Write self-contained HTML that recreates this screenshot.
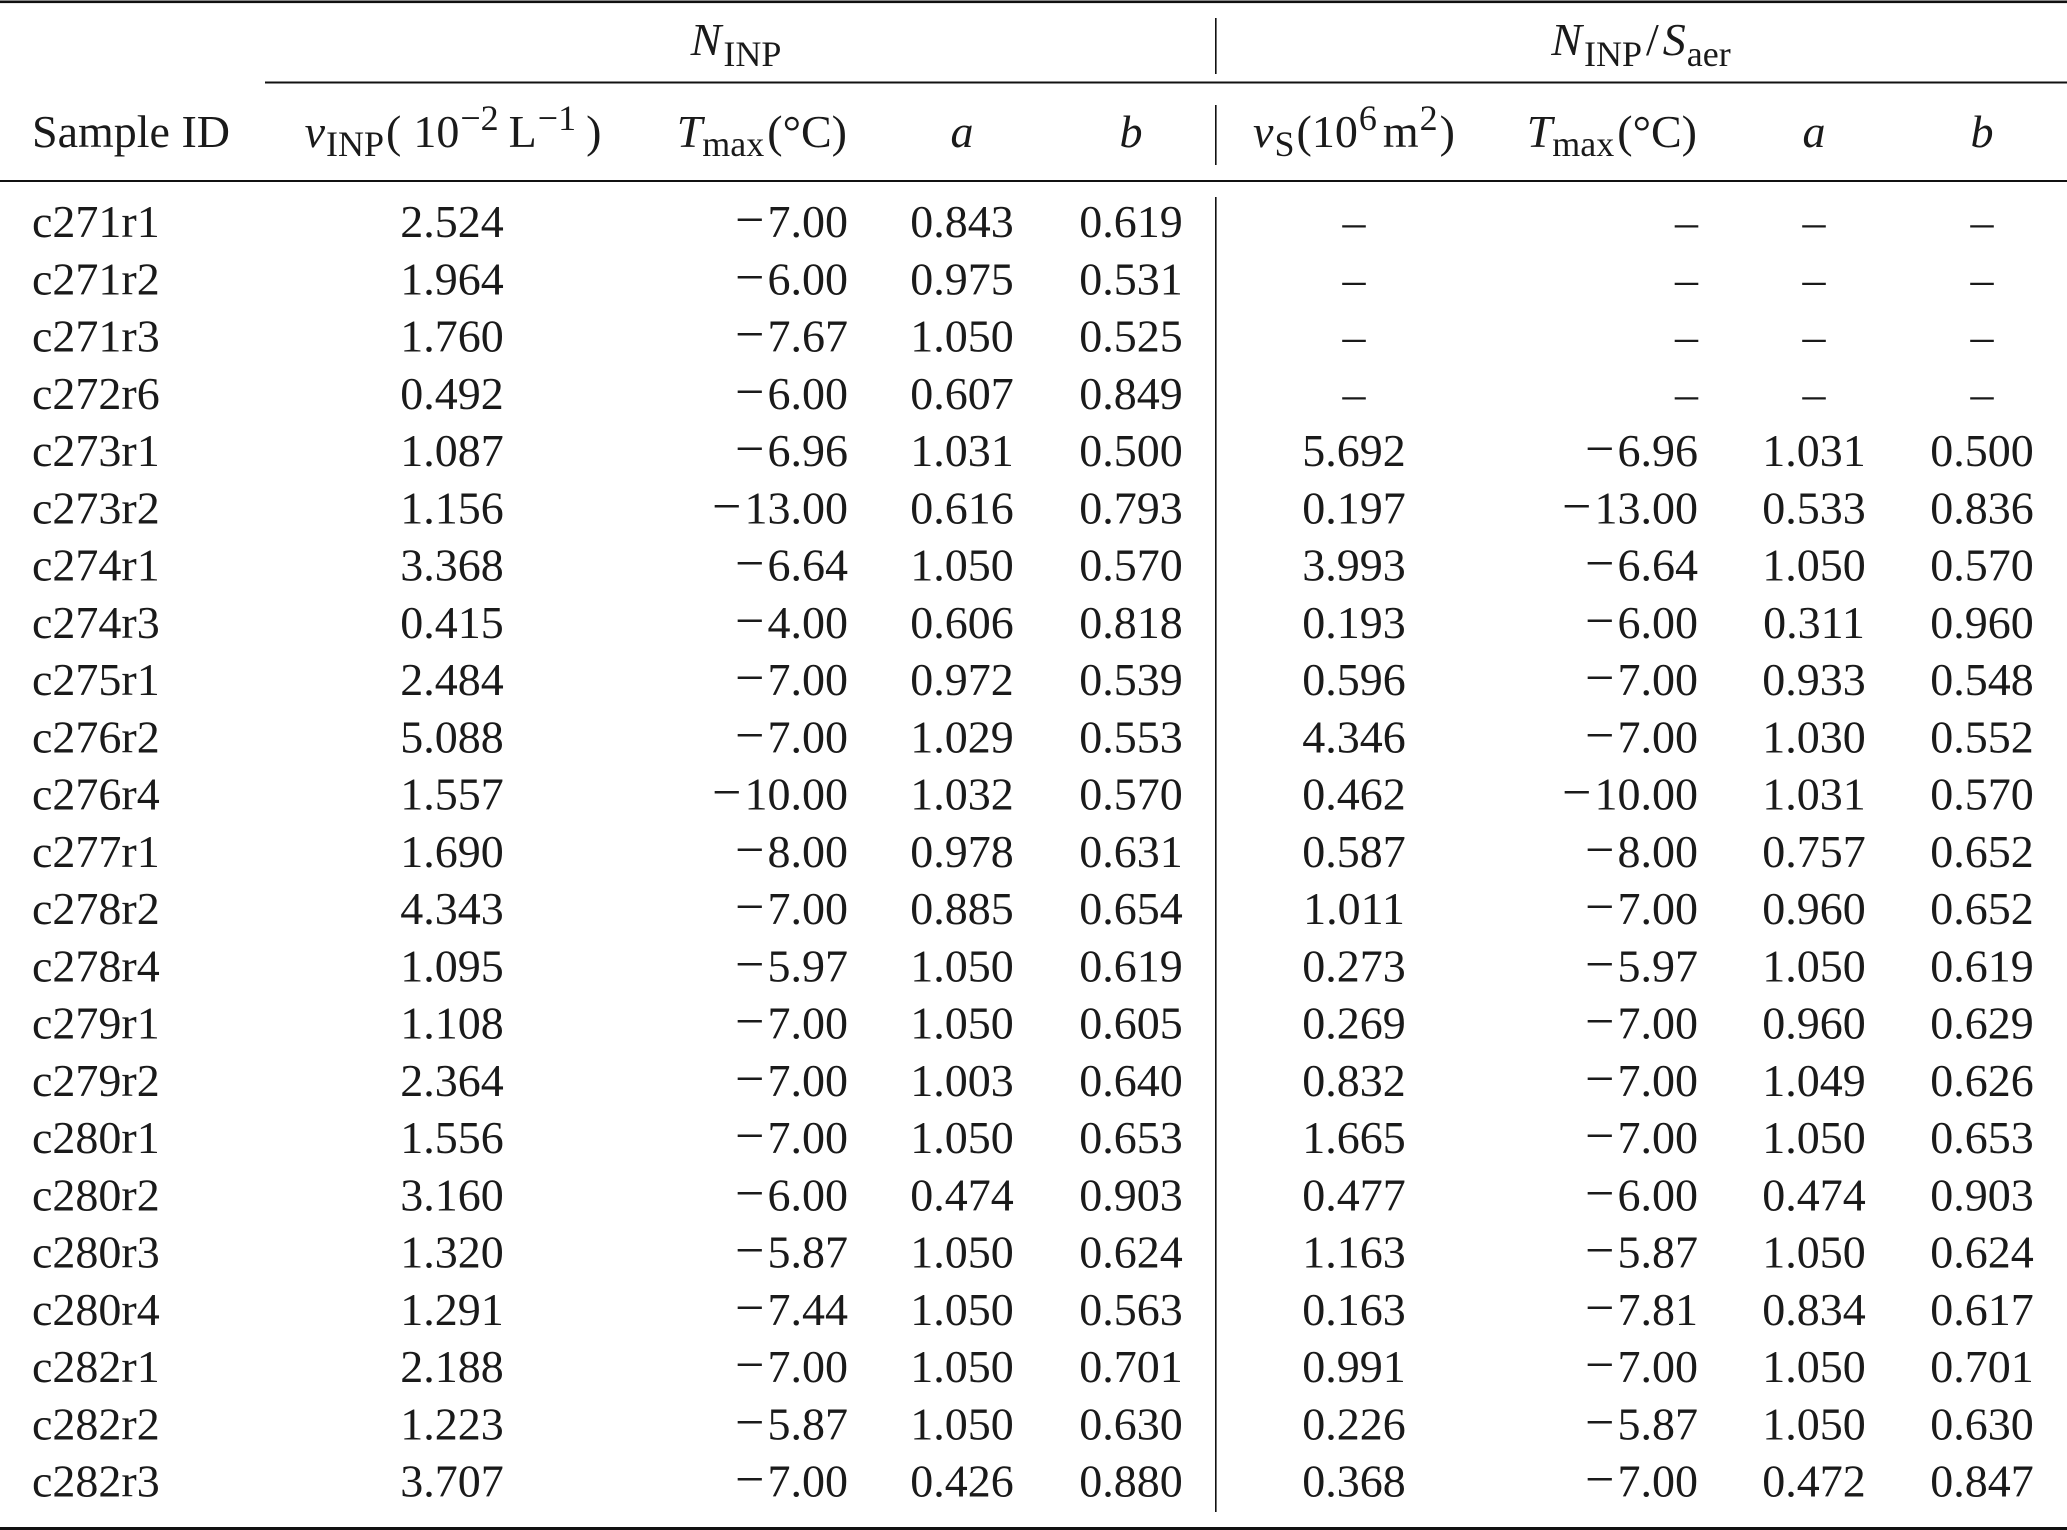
<!DOCTYPE html>
<html>
<head>
<meta charset="utf-8">
<style>
html,body{margin:0;padding:0;background:#fff;}
svg{display:block;}
text{font-family:"Liberation Serif","DejaVu Serif",serif;font-size:46px;fill:#1a1a1a;}
.m{text-anchor:middle;}
.e{text-anchor:end;}
.i{font-style:italic;}
.n{font-size:52px;}
</style>
</head>
<body>
<svg width="2067" height="1530" viewBox="0 0 2067 1530" xmlns="http://www.w3.org/2000/svg">
<rect x="0" y="0" width="2067" height="1530" fill="#fff"/>
<!-- rules -->
<rect x="0" y="0.5" width="2067" height="2.6" fill="#111"/>
<rect x="265" y="81.5" width="1802" height="2" fill="#111"/>
<rect x="0" y="180" width="2067" height="2" fill="#111"/>
<rect x="0" y="1527" width="2067" height="3" fill="#111"/>
<!-- vertical separator -->
<rect x="1215" y="18" width="1.6" height="56" fill="#111"/>
<rect x="1215" y="105" width="1.6" height="60" fill="#111"/>
<rect x="1215" y="197" width="1.6" height="1315" fill="#111"/>

<!-- group headers -->
<text x="736" y="55" class="m"><tspan class="i">N</tspan><tspan font-size="36" dy="11" dx="2">INP</tspan></text>
<text x="1641" y="55" class="m"><tspan class="i">N</tspan><tspan font-size="36" dy="11" dx="2">INP</tspan><tspan dy="-11" dx="4">/</tspan><tspan class="i" dx="4">S</tspan><tspan font-size="36" dy="11" dx="1">aer</tspan></text>

<!-- column headers -->
<text x="32" y="147">Sample ID</text>
<text x="453" y="147" class="m"><tspan class="i">ν</tspan><tspan font-size="36" dy="9" dx="1">INP</tspan><tspan dy="-9" dx="2">(</tspan><tspan dx="12">10</tspan><tspan font-size="36" dy="-17" dx="1">−2</tspan><tspan dy="17" dx="10">L</tspan><tspan font-size="36" dy="-17" dx="1">−1</tspan><tspan dy="17" dx="10">)</tspan></text>
<text x="847" y="147" class="e"><tspan class="i">T</tspan><tspan font-size="36" dy="9">max</tspan><tspan dy="-9" dx="3">(°C)</tspan></text>
<text x="962" y="147" class="m i">a</text>
<text x="1131" y="147" class="m i">b</text>
<text x="1354" y="147" class="m"><tspan class="i">ν</tspan><tspan font-size="36" dy="9" dx="1">S</tspan><tspan dy="-9" dx="2">(10</tspan><tspan font-size="36" dy="-17" dx="1">6</tspan><tspan dy="17" dx="6">m</tspan><tspan font-size="36" dy="-17" dx="1">2</tspan><tspan dy="17" dx="2">)</tspan></text>
<text x="1697" y="147" class="e"><tspan class="i">T</tspan><tspan font-size="36" dy="9">max</tspan><tspan dy="-9" dx="3">(°C)</tspan></text>
<text x="1814" y="147" class="m i">a</text>
<text x="1982" y="147" class="m i">b</text>

<!-- body rows -->
<!-- row 0 -->
<text x="32" y="237">c271r1</text><text x="452" y="237" class="m">2.524</text><text x="848" y="237" class="e"><tspan class="n">−</tspan><tspan dx="3">7.00</tspan></text><text x="962" y="237" class="m">0.843</text><text x="1131" y="237" class="m">0.619</text>
<text x="1354" y="237" class="m">–</text><text x="1698" y="237" class="e">–</text><text x="1814" y="237" class="m">–</text><text x="1982" y="237" class="m">–</text>
<!-- row 1 -->
<text x="32" y="294.25">c271r2</text><text x="452" y="294.25" class="m">1.964</text><text x="848" y="294.25" class="e"><tspan class="n">−</tspan><tspan dx="3">6.00</tspan></text><text x="962" y="294.25" class="m">0.975</text><text x="1131" y="294.25" class="m">0.531</text>
<text x="1354" y="294.25" class="m">–</text><text x="1698" y="294.25" class="e">–</text><text x="1814" y="294.25" class="m">–</text><text x="1982" y="294.25" class="m">–</text>
<!-- row 2 -->
<text x="32" y="351.5">c271r3</text><text x="452" y="351.5" class="m">1.760</text><text x="848" y="351.5" class="e"><tspan class="n">−</tspan><tspan dx="3">7.67</tspan></text><text x="962" y="351.5" class="m">1.050</text><text x="1131" y="351.5" class="m">0.525</text>
<text x="1354" y="351.5" class="m">–</text><text x="1698" y="351.5" class="e">–</text><text x="1814" y="351.5" class="m">–</text><text x="1982" y="351.5" class="m">–</text>
<!-- row 3 -->
<text x="32" y="408.75">c272r6</text><text x="452" y="408.75" class="m">0.492</text><text x="848" y="408.75" class="e"><tspan class="n">−</tspan><tspan dx="3">6.00</tspan></text><text x="962" y="408.75" class="m">0.607</text><text x="1131" y="408.75" class="m">0.849</text>
<text x="1354" y="408.75" class="m">–</text><text x="1698" y="408.75" class="e">–</text><text x="1814" y="408.75" class="m">–</text><text x="1982" y="408.75" class="m">–</text>
<!-- row 4 -->
<text x="32" y="466">c273r1</text><text x="452" y="466" class="m">1.087</text><text x="848" y="466" class="e"><tspan class="n">−</tspan><tspan dx="3">6.96</tspan></text><text x="962" y="466" class="m">1.031</text><text x="1131" y="466" class="m">0.500</text>
<text x="1354" y="466" class="m">5.692</text><text x="1698" y="466" class="e"><tspan class="n">−</tspan><tspan dx="3">6.96</tspan></text><text x="1814" y="466" class="m">1.031</text><text x="1982" y="466" class="m">0.500</text>
<!-- row 5 -->
<text x="32" y="523.25">c273r2</text><text x="452" y="523.25" class="m">1.156</text><text x="848" y="523.25" class="e"><tspan class="n">−</tspan><tspan dx="3">13.00</tspan></text><text x="962" y="523.25" class="m">0.616</text><text x="1131" y="523.25" class="m">0.793</text>
<text x="1354" y="523.25" class="m">0.197</text><text x="1698" y="523.25" class="e"><tspan class="n">−</tspan><tspan dx="3">13.00</tspan></text><text x="1814" y="523.25" class="m">0.533</text><text x="1982" y="523.25" class="m">0.836</text>
<!-- row 6 -->
<text x="32" y="580.5">c274r1</text><text x="452" y="580.5" class="m">3.368</text><text x="848" y="580.5" class="e"><tspan class="n">−</tspan><tspan dx="3">6.64</tspan></text><text x="962" y="580.5" class="m">1.050</text><text x="1131" y="580.5" class="m">0.570</text>
<text x="1354" y="580.5" class="m">3.993</text><text x="1698" y="580.5" class="e"><tspan class="n">−</tspan><tspan dx="3">6.64</tspan></text><text x="1814" y="580.5" class="m">1.050</text><text x="1982" y="580.5" class="m">0.570</text>
<!-- row 7 -->
<text x="32" y="637.75">c274r3</text><text x="452" y="637.75" class="m">0.415</text><text x="848" y="637.75" class="e"><tspan class="n">−</tspan><tspan dx="3">4.00</tspan></text><text x="962" y="637.75" class="m">0.606</text><text x="1131" y="637.75" class="m">0.818</text>
<text x="1354" y="637.75" class="m">0.193</text><text x="1698" y="637.75" class="e"><tspan class="n">−</tspan><tspan dx="3">6.00</tspan></text><text x="1814" y="637.75" class="m">0.311</text><text x="1982" y="637.75" class="m">0.960</text>
<!-- row 8 -->
<text x="32" y="695">c275r1</text><text x="452" y="695" class="m">2.484</text><text x="848" y="695" class="e"><tspan class="n">−</tspan><tspan dx="3">7.00</tspan></text><text x="962" y="695" class="m">0.972</text><text x="1131" y="695" class="m">0.539</text>
<text x="1354" y="695" class="m">0.596</text><text x="1698" y="695" class="e"><tspan class="n">−</tspan><tspan dx="3">7.00</tspan></text><text x="1814" y="695" class="m">0.933</text><text x="1982" y="695" class="m">0.548</text>
<!-- row 9 -->
<text x="32" y="752.25">c276r2</text><text x="452" y="752.25" class="m">5.088</text><text x="848" y="752.25" class="e"><tspan class="n">−</tspan><tspan dx="3">7.00</tspan></text><text x="962" y="752.25" class="m">1.029</text><text x="1131" y="752.25" class="m">0.553</text>
<text x="1354" y="752.25" class="m">4.346</text><text x="1698" y="752.25" class="e"><tspan class="n">−</tspan><tspan dx="3">7.00</tspan></text><text x="1814" y="752.25" class="m">1.030</text><text x="1982" y="752.25" class="m">0.552</text>
<!-- row 10 -->
<text x="32" y="809.5">c276r4</text><text x="452" y="809.5" class="m">1.557</text><text x="848" y="809.5" class="e"><tspan class="n">−</tspan><tspan dx="3">10.00</tspan></text><text x="962" y="809.5" class="m">1.032</text><text x="1131" y="809.5" class="m">0.570</text>
<text x="1354" y="809.5" class="m">0.462</text><text x="1698" y="809.5" class="e"><tspan class="n">−</tspan><tspan dx="3">10.00</tspan></text><text x="1814" y="809.5" class="m">1.031</text><text x="1982" y="809.5" class="m">0.570</text>
<!-- row 11 -->
<text x="32" y="866.75">c277r1</text><text x="452" y="866.75" class="m">1.690</text><text x="848" y="866.75" class="e"><tspan class="n">−</tspan><tspan dx="3">8.00</tspan></text><text x="962" y="866.75" class="m">0.978</text><text x="1131" y="866.75" class="m">0.631</text>
<text x="1354" y="866.75" class="m">0.587</text><text x="1698" y="866.75" class="e"><tspan class="n">−</tspan><tspan dx="3">8.00</tspan></text><text x="1814" y="866.75" class="m">0.757</text><text x="1982" y="866.75" class="m">0.652</text>
<!-- row 12 -->
<text x="32" y="924">c278r2</text><text x="452" y="924" class="m">4.343</text><text x="848" y="924" class="e"><tspan class="n">−</tspan><tspan dx="3">7.00</tspan></text><text x="962" y="924" class="m">0.885</text><text x="1131" y="924" class="m">0.654</text>
<text x="1354" y="924" class="m">1.011</text><text x="1698" y="924" class="e"><tspan class="n">−</tspan><tspan dx="3">7.00</tspan></text><text x="1814" y="924" class="m">0.960</text><text x="1982" y="924" class="m">0.652</text>
<!-- row 13 -->
<text x="32" y="981.25">c278r4</text><text x="452" y="981.25" class="m">1.095</text><text x="848" y="981.25" class="e"><tspan class="n">−</tspan><tspan dx="3">5.97</tspan></text><text x="962" y="981.25" class="m">1.050</text><text x="1131" y="981.25" class="m">0.619</text>
<text x="1354" y="981.25" class="m">0.273</text><text x="1698" y="981.25" class="e"><tspan class="n">−</tspan><tspan dx="3">5.97</tspan></text><text x="1814" y="981.25" class="m">1.050</text><text x="1982" y="981.25" class="m">0.619</text>
<!-- row 14 -->
<text x="32" y="1038.5">c279r1</text><text x="452" y="1038.5" class="m">1.108</text><text x="848" y="1038.5" class="e"><tspan class="n">−</tspan><tspan dx="3">7.00</tspan></text><text x="962" y="1038.5" class="m">1.050</text><text x="1131" y="1038.5" class="m">0.605</text>
<text x="1354" y="1038.5" class="m">0.269</text><text x="1698" y="1038.5" class="e"><tspan class="n">−</tspan><tspan dx="3">7.00</tspan></text><text x="1814" y="1038.5" class="m">0.960</text><text x="1982" y="1038.5" class="m">0.629</text>
<!-- row 15 -->
<text x="32" y="1095.75">c279r2</text><text x="452" y="1095.75" class="m">2.364</text><text x="848" y="1095.75" class="e"><tspan class="n">−</tspan><tspan dx="3">7.00</tspan></text><text x="962" y="1095.75" class="m">1.003</text><text x="1131" y="1095.75" class="m">0.640</text>
<text x="1354" y="1095.75" class="m">0.832</text><text x="1698" y="1095.75" class="e"><tspan class="n">−</tspan><tspan dx="3">7.00</tspan></text><text x="1814" y="1095.75" class="m">1.049</text><text x="1982" y="1095.75" class="m">0.626</text>
<!-- row 16 -->
<text x="32" y="1153">c280r1</text><text x="452" y="1153" class="m">1.556</text><text x="848" y="1153" class="e"><tspan class="n">−</tspan><tspan dx="3">7.00</tspan></text><text x="962" y="1153" class="m">1.050</text><text x="1131" y="1153" class="m">0.653</text>
<text x="1354" y="1153" class="m">1.665</text><text x="1698" y="1153" class="e"><tspan class="n">−</tspan><tspan dx="3">7.00</tspan></text><text x="1814" y="1153" class="m">1.050</text><text x="1982" y="1153" class="m">0.653</text>
<!-- row 17 -->
<text x="32" y="1210.25">c280r2</text><text x="452" y="1210.25" class="m">3.160</text><text x="848" y="1210.25" class="e"><tspan class="n">−</tspan><tspan dx="3">6.00</tspan></text><text x="962" y="1210.25" class="m">0.474</text><text x="1131" y="1210.25" class="m">0.903</text>
<text x="1354" y="1210.25" class="m">0.477</text><text x="1698" y="1210.25" class="e"><tspan class="n">−</tspan><tspan dx="3">6.00</tspan></text><text x="1814" y="1210.25" class="m">0.474</text><text x="1982" y="1210.25" class="m">0.903</text>
<!-- row 18 -->
<text x="32" y="1267.5">c280r3</text><text x="452" y="1267.5" class="m">1.320</text><text x="848" y="1267.5" class="e"><tspan class="n">−</tspan><tspan dx="3">5.87</tspan></text><text x="962" y="1267.5" class="m">1.050</text><text x="1131" y="1267.5" class="m">0.624</text>
<text x="1354" y="1267.5" class="m">1.163</text><text x="1698" y="1267.5" class="e"><tspan class="n">−</tspan><tspan dx="3">5.87</tspan></text><text x="1814" y="1267.5" class="m">1.050</text><text x="1982" y="1267.5" class="m">0.624</text>
<!-- row 19 -->
<text x="32" y="1324.75">c280r4</text><text x="452" y="1324.75" class="m">1.291</text><text x="848" y="1324.75" class="e"><tspan class="n">−</tspan><tspan dx="3">7.44</tspan></text><text x="962" y="1324.75" class="m">1.050</text><text x="1131" y="1324.75" class="m">0.563</text>
<text x="1354" y="1324.75" class="m">0.163</text><text x="1698" y="1324.75" class="e"><tspan class="n">−</tspan><tspan dx="3">7.81</tspan></text><text x="1814" y="1324.75" class="m">0.834</text><text x="1982" y="1324.75" class="m">0.617</text>
<!-- row 20 -->
<text x="32" y="1382">c282r1</text><text x="452" y="1382" class="m">2.188</text><text x="848" y="1382" class="e"><tspan class="n">−</tspan><tspan dx="3">7.00</tspan></text><text x="962" y="1382" class="m">1.050</text><text x="1131" y="1382" class="m">0.701</text>
<text x="1354" y="1382" class="m">0.991</text><text x="1698" y="1382" class="e"><tspan class="n">−</tspan><tspan dx="3">7.00</tspan></text><text x="1814" y="1382" class="m">1.050</text><text x="1982" y="1382" class="m">0.701</text>
<!-- row 21 -->
<text x="32" y="1439.25">c282r2</text><text x="452" y="1439.25" class="m">1.223</text><text x="848" y="1439.25" class="e"><tspan class="n">−</tspan><tspan dx="3">5.87</tspan></text><text x="962" y="1439.25" class="m">1.050</text><text x="1131" y="1439.25" class="m">0.630</text>
<text x="1354" y="1439.25" class="m">0.226</text><text x="1698" y="1439.25" class="e"><tspan class="n">−</tspan><tspan dx="3">5.87</tspan></text><text x="1814" y="1439.25" class="m">1.050</text><text x="1982" y="1439.25" class="m">0.630</text>
<!-- row 22 -->
<text x="32" y="1496.5">c282r3</text><text x="452" y="1496.5" class="m">3.707</text><text x="848" y="1496.5" class="e"><tspan class="n">−</tspan><tspan dx="3">7.00</tspan></text><text x="962" y="1496.5" class="m">0.426</text><text x="1131" y="1496.5" class="m">0.880</text>
<text x="1354" y="1496.5" class="m">0.368</text><text x="1698" y="1496.5" class="e"><tspan class="n">−</tspan><tspan dx="3">7.00</tspan></text><text x="1814" y="1496.5" class="m">0.472</text><text x="1982" y="1496.5" class="m">0.847</text>
</svg>
</body>
</html>
